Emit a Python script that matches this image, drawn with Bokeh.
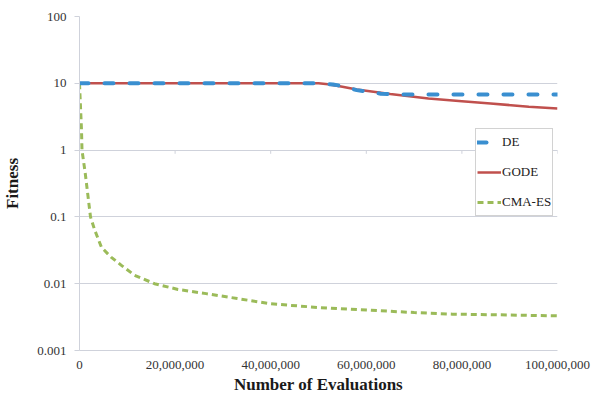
from bokeh.plotting import figure
from bokeh.models import FixedTicker, NumeralTickFormatter, Legend, LegendItem
from bokeh.embed import file_html
from bokeh.resources import INLINE

# ---- data ----
de_x = [0, 10e6, 20e6, 30e6, 40e6, 50e6, 53e6, 55e6, 58e6, 63e6, 67e6, 80e6, 90e6, 100e6]
de_y = [10, 10, 10, 10, 10, 10, 9.6, 9.1, 7.9, 7.0, 6.8, 6.8, 6.8, 6.8]

gode_x = [0, 10e6, 20e6, 30e6, 40e6, 50e6, 52e6, 55e6, 58e6, 65e6, 73e6, 80e6, 86e6, 94e6, 100e6]
gode_y = [10, 10, 10, 10, 10, 10, 9.7, 8.9, 8.1, 6.9, 5.9, 5.4, 5.0, 4.45, 4.2]

cma_x = [0, 0.42e6, 0.52e6, 1.2e6, 2.3e6, 3.2e6, 4.6e6, 6.6e6, 8.7e6, 11.5e6, 15.7e6, 20.6e6,
         26.5e6, 33e6, 40e6, 50e6, 61e6, 70e6, 78e6, 90e6, 100e6]
cma_y = [10, 2.0, 1.0, 0.45, 0.1, 0.063, 0.035, 0.025, 0.019, 0.0134, 0.01, 0.0082,
         0.0071, 0.006, 0.005, 0.0044, 0.004, 0.0037, 0.0035, 0.0034, 0.0033]

x_ticks = [0, 20e6, 40e6, 60e6, 80e6, 100e6]
y_ticks = [0.001, 0.01, 0.1, 1, 10, 100]
y_labels = ["0.001", "0.01", "0.1", "1", "10", "100"]
axis_cross = 1  # horizontal axis crosses at 1

GRID = "#cfd2db"
FONT = "Liberation Serif"

p = figure(width=600, height=399, y_axis_type="log",
           x_range=(0, 100e6), y_range=(0.001, 100),
           output_backend="svg", toolbar_location=None,
           min_border_left=79, min_border_right=43, min_border_top=16, min_border_bottom=49)
p.outline_line_color = None
p.background_fill_color = "white"

# grid
p.xgrid.grid_line_color = None
p.ygrid.grid_line_color = GRID
p.ygrid.grid_line_width = 1
p.ygrid.ticker = FixedTicker(ticks=y_ticks)

# x axis
p.xaxis.ticker = FixedTicker(ticks=x_ticks)
p.xaxis.formatter = NumeralTickFormatter(format="0,0")
p.xaxis.axis_line_color = GRID
p.xaxis.major_tick_line_color = None
p.xaxis.minor_tick_line_color = None
p.xaxis.major_tick_out = 0
p.xaxis.major_label_standoff = 10
p.xaxis.major_label_text_font = FONT
p.xaxis.major_label_text_font_size = "13px"
p.xaxis.major_label_text_color = "#333333"
p.xaxis.axis_label = "Number of Evaluations"
p.xaxis.axis_label_text_font = FONT
p.xaxis.axis_label_text_font_style = "bold"
p.xaxis.axis_label_text_font_size = "17px"
p.xaxis.axis_label_text_color = "#1a1a1a"
p.xaxis.axis_label_standoff = 3

# y axis
p.yaxis.ticker = FixedTicker(ticks=y_ticks)
p.yaxis.major_label_overrides = {t: l for t, l in zip(y_ticks, y_labels)}
p.yaxis.axis_line_color = GRID
p.yaxis.major_tick_line_color = GRID
p.yaxis.major_tick_out = 5
p.yaxis.major_tick_in = 0
p.yaxis.minor_tick_line_color = None
p.yaxis.major_label_standoff = 8
p.yaxis.major_label_text_font = FONT
p.yaxis.major_label_text_font_size = "13px"
p.yaxis.major_label_text_color = "#333333"
p.yaxis.axis_label = "Fitness"
p.yaxis.axis_label_text_font = FONT
p.yaxis.axis_label_text_font_style = "bold"
p.yaxis.axis_label_text_font_size = "17px"
p.yaxis.axis_label_text_color = "#1a1a1a"
p.yaxis.axis_label_standoff = 12

# tick marks of the horizontal axis where it crosses at 1
p.segment(x0=x_ticks, x1=x_ticks, y0=[axis_cross] * len(x_ticks),
          y1=[axis_cross * 0.88] * len(x_ticks), line_color=GRID, line_width=1)

# series
r_cma = p.line(cma_x, cma_y, line_color="#9bbb59", line_width=3, line_dash="6 4")
r_gode = p.line(gode_x, gode_y, line_color="#c0504d", line_width=2.5)
r_de = p.line(de_x, de_y, line_color="#3a8fd0", line_width=4, line_dash="9 16", line_cap="round")

legend = Legend(items=[LegendItem(label="DE", renderers=[r_de]),
                       LegendItem(label="GODE", renderers=[r_gode]),
                       LegendItem(label="CMA-ES", renderers=[r_cma])],
                location=(396, 134))
legend.label_text_font = FONT
legend.label_text_font_size = "13px"
legend.label_text_color = "#222222"
legend.border_line_color = "#a6a6a6"
legend.border_line_width = 1
legend.background_fill_color = "white"
legend.background_fill_alpha = 1
legend.padding = 1
legend.margin = 0
legend.spacing = 6
legend.label_height = 24
legend.glyph_height = 24
legend.glyph_width = 24
legend.label_standoff = 1
p.add_layout(legend, "center")

open("out.html", "w").write(file_html(p, INLINE))
